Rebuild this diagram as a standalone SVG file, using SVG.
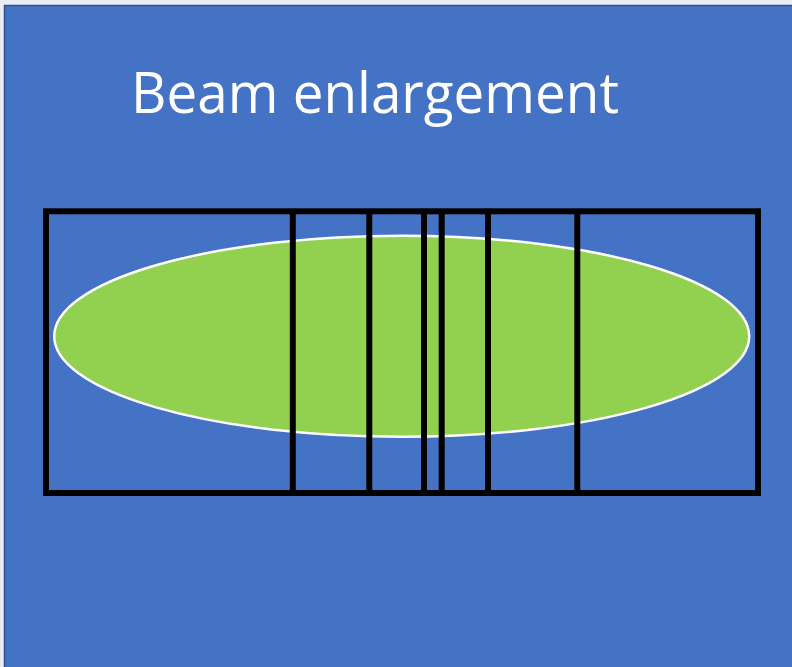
<svg xmlns="http://www.w3.org/2000/svg" width="792" height="667" viewBox="0 0 792 667">
<style>
.frame{fill:none;stroke:#000;stroke-width:6}
.div{stroke:#000;stroke-width:6}
.title{font-family:"Open Sans","Liberation Sans",sans-serif;font-size:56px;fill:#fff}
</style>
<rect x="0" y="0" width="792" height="667" fill="#e9ecf2"/>
<rect id="background" x="4.5" y="5.5" width="800" height="680" fill="#4472C4" stroke="#2F528F" stroke-width="1.5"/>
<text id="title" class="title" x="131" y="113" textLength="488" lengthAdjust="spacingAndGlyphs">Beam enlargement</text>
<g id="beam">
<ellipse cx="401.7" cy="336.3" rx="347.5" ry="100.5" fill="#92D050" stroke="#fff" stroke-width="2.5"/>
</g>
<g id="grid">
<rect class="frame" x="46" y="211.3" width="712" height="281.7"/>
<line class="div" x1="292.8" y1="211.3" x2="292.8" y2="493"/>
<line class="div" x1="369.3" y1="211.3" x2="369.3" y2="493"/>
<line class="div" x1="424" y1="211.3" x2="424" y2="493"/>
<line class="div" x1="441.7" y1="211.3" x2="441.7" y2="493"/>
<line class="div" x1="488" y1="211.3" x2="488" y2="493"/>
<line class="div" x1="577.3" y1="211.3" x2="577.3" y2="493"/>
</g>
</svg>
